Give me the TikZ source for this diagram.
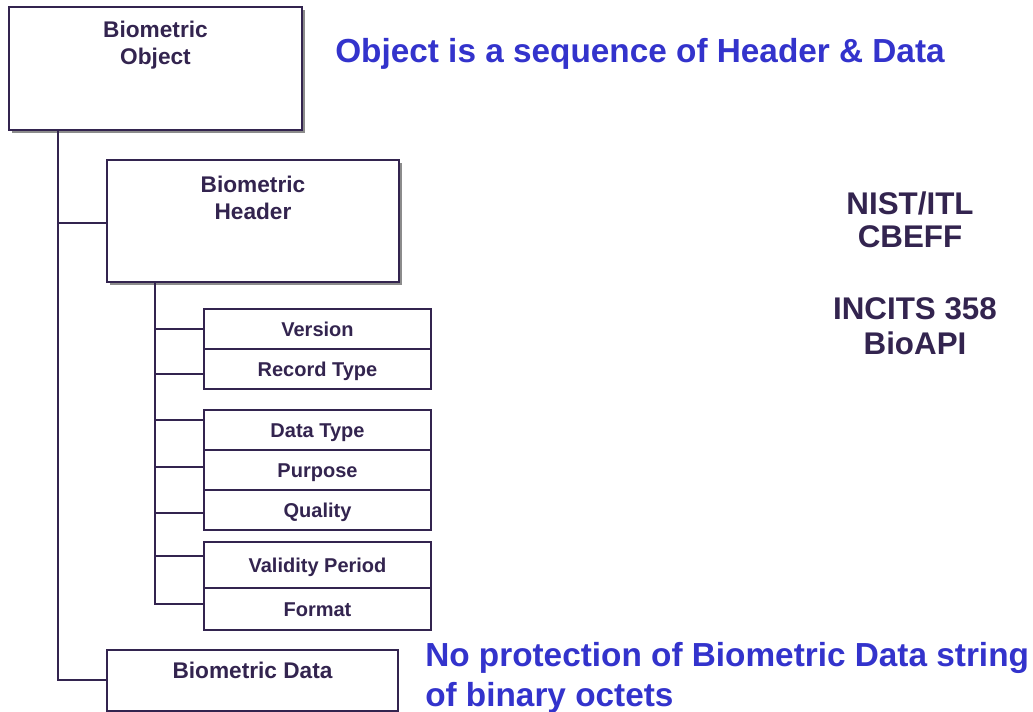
\documentclass[tikz,border=0pt]{standalone}
\usepackage{fontspec}
\setmainfont{Liberation Sans}
\usetikzlibrary{shadows}
\definecolor{ink}{HTML}{33244F}
\definecolor{bluenote}{HTML}{3333CC}
\tikzset{
  bigbox/.style={draw=ink, line width=1.5pt, fill=white, anchor=north west, inner sep=0pt,
    drop shadow={opacity=1, fill=black!45, shadow xshift=2.25pt, shadow yshift=-2.25pt}},
  plainbox/.style={draw=ink, line width=1.5pt, fill=white, anchor=north west, inner sep=0pt},
  smallbox/.style={draw=ink, line width=1.5pt, fill=white, anchor=north west, inner sep=0pt,
    minimum width=170.25pt, text height=10.75pt, text depth=0pt, text=ink,
    font=\bfseries\fontsize{15}{18}\selectfont},
  link/.style={draw=ink, line width=1.5pt},
  boxtitle/.style={font=\bfseries\fontsize{17}{20.4}\selectfont, text=ink, align=center, inner sep=0pt},
  bluetext/.style={font=\bfseries\fontsize{25}{30}\selectfont, text=bluenote, inner sep=0pt, align=left},
  stdtext/.style={font=\bfseries\fontsize{23.5}{24.75}\selectfont, text=ink, inner sep=0pt, align=center}
}
\begin{document}
\begin{tikzpicture}[x=0.75pt,y=-0.75pt]
\useasboundingbox[fill=white] (0,0) rectangle (1033,712);

% main boxes
\node[bigbox, minimum width=219.75pt, minimum height=92.25pt,
  label={[boxtitle, anchor=north, yshift=-11.25pt]north:Biometric\\Object}] (obj) at (8,6) {};
\node[bigbox, minimum width=219pt, minimum height=91.5pt,
  label={[boxtitle, anchor=north, yshift=-12.75pt]north:Biometric\\Header}] (hdr) at (106,159) {};
\node[plainbox, minimum width=218.25pt, minimum height=45.75pt,
  label={[boxtitle, anchor=north, yshift=-9.75pt]north:Biometric Data}] (dat) at (106,649) {};

% header fields
\node[smallbox, minimum height=30pt] (ver) at (203,308) {Version};
\node[smallbox, minimum height=30pt] (rec) at (203,348) {Record Type};
\node[smallbox, minimum height=30pt] (dty) at (203,409) {Data Type};
\node[smallbox, minimum height=30pt] (pur) at (203,449) {Purpose};
\node[smallbox, minimum height=30pt] (qua) at (203,489) {Quality};
\node[smallbox, minimum height=34.5pt] (val) at (203,541) {Validity Period};
\node[smallbox, minimum height=31.5pt] (fmt) at (203,587) {Format};

% connectors
\draw[link] ([xshift=37.5pt]obj.south west) |- ([yshift=-1.5pt]hdr.west);
\draw[link] ([xshift=37.5pt]obj.south west) |- (dat.west);
\draw[link] ([xshift=36.75pt]hdr.south west) |- ([yshift=3.75pt]fmt.west);
\draw[link] (ver.west) -- ++(-48,0);
\draw[link] ([yshift=-3.75pt]rec.west) -- ++(-48,0);
\draw[link] ([yshift=7.5pt]dty.west) -- ++(-48,0);
\draw[link] ([yshift=2.25pt]pur.west) -- ++(-48,0);
\draw[link] ([yshift=-2.25pt]qua.west) -- ++(-48,0);
\draw[link] ([yshift=6.75pt]val.west) -- ++(-48,0);

% texts
\node[bluetext, anchor=base west] (title) at (335,63) {Object is a sequence of Header \& Data};
\node[bluetext, anchor=base west] (remark) at (425,707) {No protection of Biometric Data string\\of binary octets};
\node[stdtext, anchor=base] (nist) at (910,248) {NIST/ITL\\CBEFF};
\node[stdtext, anchor=base, font=\bfseries\fontsize{23.5}{26.25}\selectfont] (incits) at (915,355) {INCITS 358\\BioAPI};
\end{tikzpicture}
\end{document}
